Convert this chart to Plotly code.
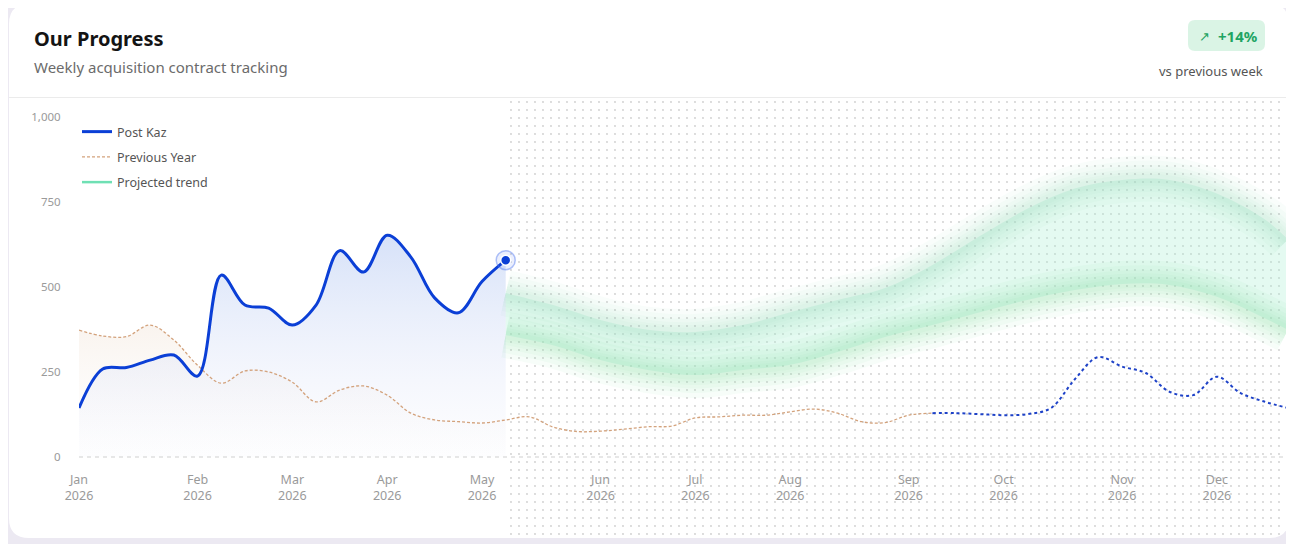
import plotly.graph_objects as go

W, H = 1294, 544
OFF = 8  # page body margin offset of the figure inside the window

# ---------------- data ----------------
tick_weeks = [0, 5, 9, 13, 17, 22, 26, 30, 35, 39, 44, 48]
tick_labels = ["Jan<br>2026", "Feb<br>2026", "Mar<br>2026", "Apr<br>2026", "May<br>2026",
               "Jun<br>2026", "Jul<br>2026", "Aug<br>2026", "Sep<br>2026", "Oct<br>2026",
               "Nov<br>2026", "Dec<br>2026"]
y_ticks = [0, 250, 500, 750, 1000]

post_kaz_weeks = list(range(0, 19))
post_kaz = [144, 259, 263, 285, 300, 238, 535, 447, 438, 388, 447, 607, 544, 652, 588,
            468, 424, 516, 579]

prev_year_weeks = list(range(0, 37))
prev_year = [373, 356, 354, 388, 344, 270, 217, 253, 250, 220, 162, 197, 209, 182, 129,
             109, 104, 100, 109, 118, 88, 75, 76, 82, 89, 91, 115, 118, 123, 123, 133,
             141, 129, 104, 101, 123, 129]

prev_year_late_weeks = list(range(36, 52))
prev_year_late = [129, 129, 126, 123, 126, 144, 228, 294, 266, 247, 192, 182, 236, 188,
                  163, 144]

proj_weeks = [18, 20, 22, 24, 26, 28, 30, 32, 34, 36, 38, 40, 42, 44, 46, 48, 50, 51]
proj_upper = [482, 447, 403, 374, 368, 388, 426, 462, 497, 565, 650, 730, 790, 815, 815,
              775, 700, 640]
proj_lower = [359, 329, 285, 256, 241, 256, 271, 309, 353, 388, 426, 462, 491, 509, 506,
              471, 409, 374]

# ---------------- helpers ----------------
def px(x):
    return (x - OFF) / W

def py(y):
    return 1 - (y - OFF) / H

def rounded_path(x0, y0, x1, y1, r):
    pts = [
        ("M", [(x0 + r, y0)]), ("L", [(x1 - r, y0)]), ("Q", [(x1, y0), (x1, y0 + r)]),
        ("L", [(x1, y1 - r)]), ("Q", [(x1, y1), (x1 - r, y1)]), ("L", [(x0 + r, y1)]),
        ("Q", [(x0, y1), (x0, y1 - r)]), ("L", [(x0, y0 + r)]), ("Q", [(x0, y0), (x0 + r, y0)]),
    ]
    s = ""
    for cmd, ps in pts:
        s += cmd + " " + " ".join(f"{px(a):.6f},{py(b):.6f}" for a, b in ps) + " "
    return s + "Z"

BLUE = "#0b3fd6"
TAN = "#d3a27c"
MINT = "#6fe0b4"
FONT = "Noto Sans"

fig = go.Figure()

# dotted "future" background (decoration, own subplot)
fig.add_trace(go.Scatter(
    x=[0, 1, 1, 0, 0], y=[0, 0, 1, 1, 0], mode="lines", fill="toself",
    line=dict(width=0), fillcolor="rgba(255,255,255,0)",
    fillpattern=dict(shape=".", size=8, solidity=0.04, fgcolor="#c8c8c8", fgopacity=0.9),
    hoverinfo="skip", showlegend=False, xaxis="x", yaxis="y"))

# previous year area (left part)
n_left = len(post_kaz_weeks)
fig.add_trace(go.Scatter(
    x=prev_year_weeks[:n_left], y=prev_year[:n_left], mode="lines",
    line=dict(width=0, shape="spline", smoothing=1), fill="tozeroy",
    fillgradient=dict(type="vertical", start=0, stop=400,
                      colorscale=[[0, "rgba(250,248,246,0)"], [1, "rgba(247,238,230,0.7)"]]),
    hoverinfo="skip", showlegend=False, xaxis="x2", yaxis="y2"))

# post kaz area
fig.add_trace(go.Scatter(
    x=post_kaz_weeks, y=post_kaz, mode="lines",
    line=dict(width=0, shape="spline", smoothing=1), fill="tozeroy",
    fillgradient=dict(type="vertical", start=0, stop=660,
                      colorscale=[[0, "rgba(236,238,250,0.1)"], [1, "rgba(200,215,246,0.75)"]]),
    hoverinfo="skip", showlegend=False, xaxis="x2", yaxis="y2"))

# projected band fill
fig.add_trace(go.Scatter(
    x=proj_weeks, y=proj_upper, mode="lines", line=dict(width=0, shape="spline"),
    hoverinfo="skip", showlegend=False, xaxis="x2", yaxis="y2"))
fig.add_trace(go.Scatter(
    x=proj_weeks, y=proj_lower, mode="lines", line=dict(width=0, shape="spline"),
    fill="tonexty", fillcolor="rgba(170,238,212,0.32)",
    hoverinfo="skip", showlegend=False, xaxis="x2", yaxis="y2"))

# blurred band edges
for series, alpha in ((proj_upper, 0.05), (proj_lower, 0.065)):
    for w in (46, 36, 27, 20, 14, 9):
        fig.add_trace(go.Scatter(
            x=proj_weeks, y=series, mode="lines",
            line=dict(width=w, color=f"rgba(140,218,170,{alpha})", shape="spline"),
            hoverinfo="skip", showlegend=False, xaxis="x2", yaxis="y2"))

# previous year lines
fig.add_trace(go.Scatter(
    x=prev_year_weeks, y=prev_year, mode="lines", name="Previous Year",
    line=dict(width=1.3, color=TAN, dash="3px,2px", shape="spline", smoothing=1),
    legendrank=2, legendgroup="b", xaxis="x2", yaxis="y2"))
fig.add_trace(go.Scatter(
    x=prev_year_late_weeks, y=prev_year_late, mode="lines",
    line=dict(width=2, color="#1e42c8", dash="3px,3px", shape="spline", smoothing=1),
    showlegend=False, xaxis="x2", yaxis="y2"))

# post kaz line
fig.add_trace(go.Scatter(
    x=post_kaz_weeks, y=post_kaz, mode="lines", name="Post Kaz",
    line=dict(width=3, color=BLUE, shape="spline", smoothing=1),
    legendrank=1, legendgroup="a", xaxis="x2", yaxis="y2"))

# projected legend entry
fig.add_trace(go.Scatter(
    x=[None], y=[None], mode="lines", name="Projected trend",
    line=dict(width=2.5, color=MINT), legendrank=3, legendgroup="c",
    xaxis="x2", yaxis="y2"))

# current point
fig.add_trace(go.Scatter(
    x=post_kaz_weeks[-1:], y=post_kaz[-1:], mode="markers",
    marker=dict(size=19, color="rgba(59,100,240,0.10)",
                line=dict(width=1.5, color="rgba(80,120,240,0.45)")),
    showlegend=False, hoverinfo="skip", cliponaxis=False, xaxis="x2", yaxis="y2"))
fig.add_trace(go.Scatter(
    x=post_kaz_weeks[-1:], y=post_kaz[-1:], mode="markers",
    marker=dict(size=10, color=BLUE, line=dict(width=1.5, color="white")),
    showlegend=False, hoverinfo="skip", cliponaxis=False, xaxis="x2", yaxis="y2"))

shapes = [
    dict(type="path", path=rounded_path(9, 4, 1289, 538, 20), xref="paper", yref="paper",
         fillcolor="white", line=dict(width=0), layer="below"),
    dict(type="line", xref="paper", yref="paper", x0=px(9), x1=px(1289), y0=py(97.5),
         y1=py(97.5), line=dict(color="#ebebeb", width=1), layer="below"),
    dict(type="path", path=rounded_path(1188, 20, 1265, 51, 7), xref="paper", yref="paper",
         fillcolor="#daf4e5", line=dict(width=0), layer="below"),
    dict(type="line", xref="x2 domain", yref="y2", x0=0, x1=1, y0=0, y1=0,
         line=dict(color="#cfcfcf", width=1.2, dash="4px,4px"), layer="above"),
]

annotations = [
    dict(text="<b>Our Progress</b>", x=px(32), y=py(38), xref="paper", yref="paper",
         xanchor="left", yanchor="middle", showarrow=False,
         font=dict(family=FONT, size=20, color="#141414")),
    dict(text="Weekly acquisition contract tracking", x=px(32), y=py(67), xref="paper",
         yref="paper", xanchor="left", yanchor="middle", showarrow=False,
         font=dict(family=FONT, size=15, color="#6b6b6b")),
    dict(text="↗", x=px(1204), y=py(36), xref="paper", yref="paper",
         xanchor="center", yanchor="middle", showarrow=False,
         font=dict(family=FONT, size=13, color="#1fa463")),
    dict(text="<b>+14%</b>", x=px(1238), y=py(36), xref="paper", yref="paper",
         xanchor="center", yanchor="middle", showarrow=False,
         font=dict(family=FONT, size=15, color="#1fa463")),
    dict(text="vs previous week", x=px(1265), y=py(71), xref="paper", yref="paper",
         xanchor="right", yanchor="middle", showarrow=False,
         font=dict(family=FONT, size=13, color="#555555")),
]

fig.update_layout(
    width=W, height=H, autosize=False,
    margin=dict(l=0, r=0, t=0, b=0, pad=0, autoexpand=False),
    paper_bgcolor="#ece9f2", plot_bgcolor="rgba(0,0,0,0)",
    font=dict(family=FONT, color="#9a9a9a"),
    shapes=shapes, annotations=annotations,
    hovermode=False,
    xaxis=dict(domain=[px(507), px(1289)], range=[0, 1], visible=False, fixedrange=True,
               automargin=False),
    yaxis=dict(domain=[py(538), py(98)], range=[0, 1], visible=False, fixedrange=True,
               automargin=False),
    xaxis2=dict(domain=[px(79), px(1288)], range=[0, 51], anchor="y2", automargin=False,
                tickmode="array", tickvals=tick_weeks, ticktext=tick_labels,
                showgrid=False, zeroline=False, showline=False,
                ticks="outside", ticklen=2, tickcolor="rgba(0,0,0,0)",
                tickfont=dict(family=FONT, size=12.5, color="#9a9a9a")),
    yaxis2=dict(domain=[py(465.5), py(117)], range=[-25, 1000], anchor="x2", automargin=False,
                tickmode="array", tickvals=y_ticks, tickformat=",",
                showgrid=False, zeroline=False, showline=False,
                ticks="outside", ticklen=15, tickcolor="rgba(0,0,0,0)",
                tickfont=dict(family=FONT, size=11.5, color="#9a9a9a")),
    legend=dict(x=px(77), y=py(117), xanchor="left", yanchor="top",
                bgcolor="rgba(0,0,0,0)", font=dict(family=FONT, size=12.5, color="#555555"),
                traceorder="grouped", tracegroupgap=6, itemwidth=30),
)

fig.write_html("out.html")
